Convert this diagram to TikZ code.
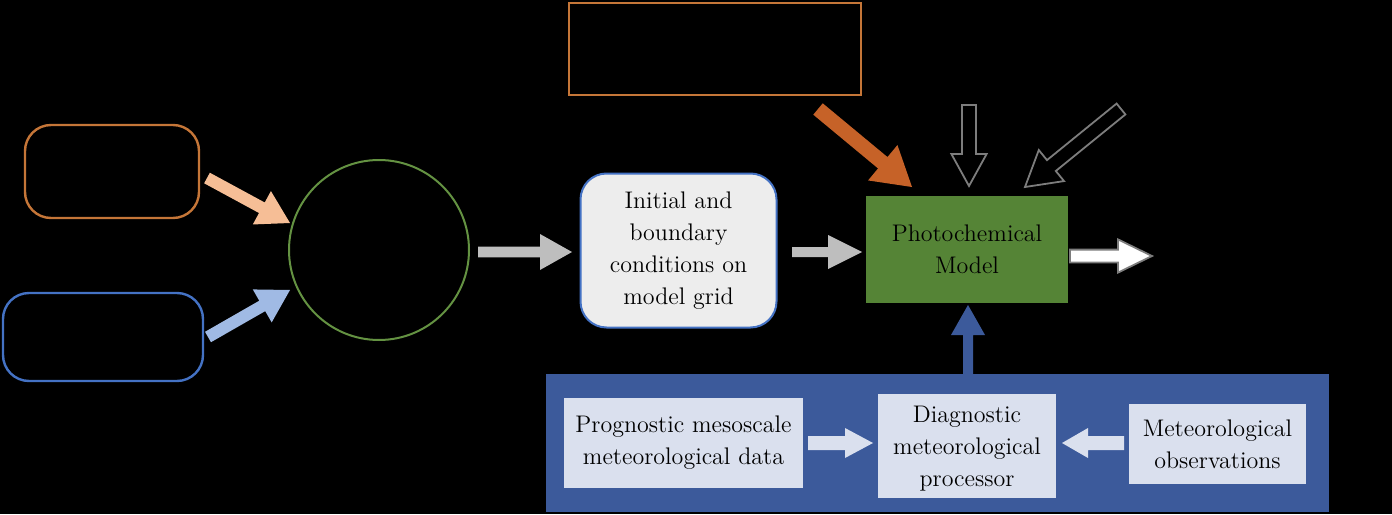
\documentclass[tikz,border=0pt]{standalone}
\usetikzlibrary{calc}
\definecolor{boxorange}{RGB}{197,118,56}
\definecolor{arrorange}{RGB}{198,98,40}
\definecolor{peach}{RGB}{246,190,150}
\definecolor{lblue}{RGB}{160,186,228}
\definecolor{boxblue}{RGB}{68,114,196}
\definecolor{cgreen}{RGB}{100,146,66}
\definecolor{pgreen}{RGB}{85,132,54}
\definecolor{panel}{RGB}{60,90,155}
\definecolor{lightbox}{RGB}{218,224,238}
\definecolor{initfill}{RGB}{237,237,237}
\definecolor{agray}{RGB}{190,190,190}
\definecolor{ogray}{RGB}{125,125,125}
\newcommand\blockarrow[6]{%
  \coordinate (bap) at ($(#3)!#6!(#2)$);
  \draw[#1] ($(#2)!#4!-90:(#3)$) -- ($(bap)!#4!-90:(#3)$) -- ($(bap)!#5!-90:(#3)$) -- (#3)
    -- ($(bap)!#5!90:(#3)$) -- ($(bap)!#4!90:(#3)$) -- ($(#2)!#4!90:(#3)$) -- cycle;}
\tikzset{
  txt/.style={font=\fontsize{12}{16}\selectfont, align=center, text=black},
  lbox/.style={txt, fill=lightbox, draw=none, inner sep=0pt},
}
\begin{document}
\begin{tikzpicture}[x=0.5pt,y=-0.5pt]
\fill[black] (0,0) rectangle (1392,514);
\useasboundingbox (0,0) rectangle (1392,514);
% left boxes and circle
\draw[boxorange, line width=1.2pt, rounded corners=13pt] (25,125) rectangle (199,218);
\node (obox) at (112,171.5) {};
\draw[boxblue, line width=1.2pt, rounded corners=13pt] (3,293) rectangle (203,381);
\node (bbox) at (103,337) {};
\node[circle, draw=cgreen, line width=1pt, minimum size=90pt, inner sep=0pt] (circ) at (379,250) {};
% top orange rectangle
\draw[boxorange, line width=0.8pt] (569,3) rectangle (861,95);
\node (trect) at (715,49) {};
% initial box
\node[txt, fill=initfill, draw=boxblue, line width=1pt, rounded corners=13pt,
      minimum width=98pt, minimum height=77pt, inner sep=0pt] (init) at (678.5,250.5)
      {Initial and\\boundary\\conditions on\\model grid};
% photochemical
\node[txt, fill=pgreen, minimum width=101pt, minimum height=53.5pt, inner sep=0pt]
      (photo) at (967,249.5) {Photochemical\\Model};
% panel
\fill[panel] (546,374) rectangle (1329,512);
\node[lbox, minimum width=119.5pt, minimum height=45pt] (prog) at (683.5,443)
      {Prognostic mesoscale\\meteorological data};
\node[lbox, minimum width=89pt, minimum height=52pt, text depth=0pt] (diag) at (967,446)
      {Diagnostic\\meteorological\\processor};
\node[lbox, minimum width=88.5pt, minimum height=40pt] (obs) at (1217.5,444)
      {Meteorological\\observations};
% arrow coordinates
\coordinate (a1s) at (207,178); \coordinate (a1e) at (290,223);
\coordinate (a2s) at (208,337); \coordinate (a2e) at (290,290);
\coordinate (a3s) at (478,252); \coordinate (a3e) at (572,252);
\coordinate (a4s) at (792,252); \coordinate (a4e) at (862,252);
\coordinate (a5s) at (1070,256); \coordinate (a5e) at (1152,256);
\coordinate (a6s) at (818,109); \coordinate (a6e) at (912,187);
\coordinate (a7s) at (969,105); \coordinate (a7e) at (969,186);
\coordinate (a8s) at (1121,109); \coordinate (a8e) at (1025,187);
\coordinate (a9s) at (968,374); \coordinate (a9e) at (968,305);
\coordinate (a10s) at (808,443); \coordinate (a10e) at (873,443);
\coordinate (a11s) at (1124,443); \coordinate (a11e) at (1062,443);
% arrows
\blockarrow{fill=peach, draw=none}{a1s}{a1e}{3pt}{9.5pt}{16pt}
\blockarrow{fill=lblue, draw=none}{a2s}{a2e}{3pt}{9.5pt}{16pt}
\blockarrow{fill=agray, draw=none}{a3s}{a3e}{2.7pt}{9pt}{16pt}
\blockarrow{fill=agray, draw=none}{a4s}{a4e}{2.5pt}{8.5pt}{17pt}
\blockarrow{fill=white, draw=ogray, line width=0.9pt}{a5s}{a5e}{3.2pt}{8.3pt}{17pt}
\blockarrow{fill=arrorange, draw=none}{a6s}{a6e}{3.7pt}{11.5pt}{19pt}
\blockarrow{fill=black, draw=ogray, line width=0.9pt}{a7s}{a7e}{3.5pt}{8.8pt}{16pt}
\blockarrow{fill=black, draw=ogray, line width=0.9pt}{a8s}{a8e}{3.5pt}{10pt}{17pt}
\blockarrow{fill=panel, draw=none}{a9s}{a9e}{2.5pt}{8.5pt}{15pt}
\blockarrow{fill=lightbox, draw=none}{a10s}{a10e}{3.5pt}{7.5pt}{14pt}
\blockarrow{fill=lightbox, draw=none}{a11s}{a11e}{3.5pt}{7.5pt}{13pt}
\end{tikzpicture}
\end{document}
